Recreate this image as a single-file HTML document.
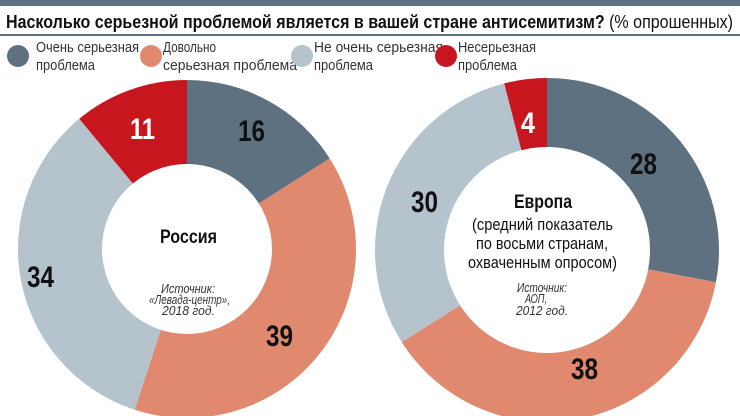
<!DOCTYPE html>
<html><head><meta charset="utf-8"><style>
html,body{margin:0;padding:0;background:#fff;}
svg{display:block;font-family:"Liberation Sans",sans-serif;}
</style></head><body>
<svg width="740" height="416" viewBox="0 0 740 416" xmlns="http://www.w3.org/2000/svg">
<rect x="0" y="0" width="740" height="6" fill="#5d7180"/>
<text x="6" y="28" font-size="18" font-weight="bold" fill="#111" textLength="727" lengthAdjust="spacingAndGlyphs">Насколько серьезной проблемой является в вашей стране антисемитизм? <tspan font-weight="normal">(% опрошенных)</tspan></text>
<rect x="0" y="34" width="740" height="2" fill="#5d7180"/>
<g font-size="15" fill="#333">
<circle cx="18" cy="56" r="11" fill="#5d7180"/>
<text x="36" y="52" textLength="103" lengthAdjust="spacingAndGlyphs">Очень серьезная</text><text x="36" y="70" textLength="59" lengthAdjust="spacingAndGlyphs">проблема</text>
<circle cx="151" cy="56" r="11" fill="#e0896f"/>
<text x="163" y="52" textLength="53" lengthAdjust="spacingAndGlyphs">Довольно</text><text x="163" y="70" textLength="134" lengthAdjust="spacingAndGlyphs">серьезная проблема</text>
<circle cx="302" cy="56" r="11" fill="#b4c3cc"/>
<text x="314" y="52" textLength="129" lengthAdjust="spacingAndGlyphs">Не очень серьезная</text><text x="314" y="70" textLength="59" lengthAdjust="spacingAndGlyphs">проблема</text>
<circle cx="446" cy="56" r="11" fill="#c8161e"/>
<text x="458" y="52" textLength="78" lengthAdjust="spacingAndGlyphs">Несерьезная</text><text x="458" y="70" textLength="59" lengthAdjust="spacingAndGlyphs">проблема</text>
</g>
<g id="d1"></g><g id="d2"></g>
<circle cx="187" cy="249" r="85" fill="#fff"/>
<circle cx="547" cy="250" r="103" fill="#fff"/>
<g font-size="30" font-weight="bold" fill="#111">
<text x="238" y="141" textLength="27" lengthAdjust="spacingAndGlyphs">16</text>
<text x="130" y="139" fill="#fff" textLength="25" lengthAdjust="spacingAndGlyphs">11</text>
<text x="27" y="287" textLength="27" lengthAdjust="spacingAndGlyphs">34</text>
<text x="266" y="346" textLength="27" lengthAdjust="spacingAndGlyphs">39</text>
<text x="521" y="133" fill="#fff" textLength="14" lengthAdjust="spacingAndGlyphs">4</text>
<text x="630" y="174" textLength="27" lengthAdjust="spacingAndGlyphs">28</text>
<text x="411" y="212" textLength="27" lengthAdjust="spacingAndGlyphs">30</text>
<text x="571" y="379" textLength="27" lengthAdjust="spacingAndGlyphs">38</text>
</g>
<g fill="#111">
<text x="160" y="243" font-size="19" font-weight="bold" textLength="57" lengthAdjust="spacingAndGlyphs">Россия</text>
<g font-size="13" font-style="italic" fill="#333">
<text x="161" y="293" textLength="54" lengthAdjust="spacingAndGlyphs">Источник:</text>
<text x="149" y="304" textLength="81" lengthAdjust="spacingAndGlyphs">«Левада-центр»,</text>
<text x="162" y="315" textLength="53" lengthAdjust="spacingAndGlyphs">2018 год.</text></g>
<text x="514" y="208" font-size="19" font-weight="bold" textLength="58" lengthAdjust="spacingAndGlyphs">Европа</text>
<g font-size="17">
<text x="472" y="230" textLength="141" lengthAdjust="spacingAndGlyphs">(средний показатель</text>
<text x="476" y="249" textLength="132" lengthAdjust="spacingAndGlyphs">по восьми странам,</text>
<text x="468" y="268" textLength="149" lengthAdjust="spacingAndGlyphs">охваченным опросом)</text></g>
<g font-size="13" font-style="italic" fill="#333">
<text x="517" y="292" textLength="50" lengthAdjust="spacingAndGlyphs">Источник:</text>
<text x="525" y="303" textLength="22" lengthAdjust="spacingAndGlyphs">АОП,</text>
<text x="516" y="315" textLength="52" lengthAdjust="spacingAndGlyphs">2012 год.</text></g>
</g>
<script>
function donut(id,cx,cy,r,vals,cols){
 var g=document.getElementById(id),a=0,ns="http://www.w3.org/2000/svg";
 vals.forEach(function(v,i){
  var a0=a*2*Math.PI/100,a1=(a+v)*2*Math.PI/100;a+=v;
  var x0=cx+r*Math.sin(a0),y0=cy-r*Math.cos(a0),x1=cx+r*Math.sin(a1),y1=cy-r*Math.cos(a1);
  var p=document.createElementNS(ns,"path");
  p.setAttribute("d","M"+cx+","+cy+"L"+x0+","+y0+"A"+r+","+r+" 0 "+(v>50?1:0)+" 1 "+x1+","+y1+"Z");
  p.setAttribute("fill",cols[i]);g.appendChild(p);
 });
}
var C=["#5d7180","#e0896f","#b4c3cc","#c8161e"];
donut("d1",187,249,169,[16,39,34,11],C);
donut("d2",547,250,172,[28,38,30,4],C);
</script>
</svg>
</body></html>
